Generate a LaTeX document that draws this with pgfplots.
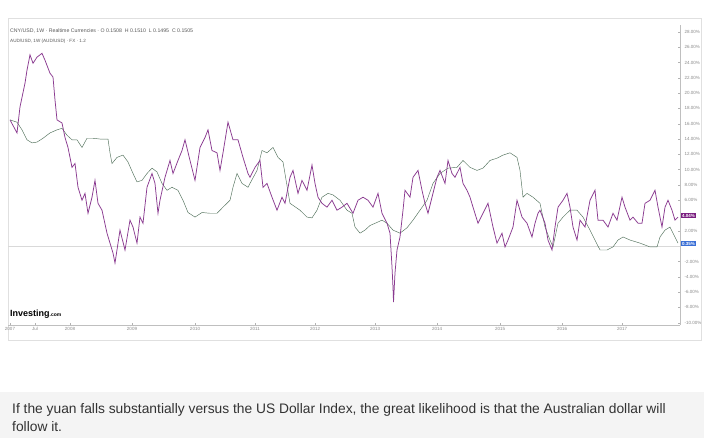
\documentclass[border=0pt]{standalone}
\usepackage{fontspec}
\setmainfont{Liberation Sans}
\usepackage{pgfplots}
\pgfplotsset{compat=1.18}
\definecolor{purp}{HTML}{8A3A90}
\definecolor{grn}{HTML}{50705A}
\definecolor{tagp}{HTML}{7A1F80}
\definecolor{tagb}{HTML}{3A6FD6}
\definecolor{capbg}{HTML}{F4F4F4}
\definecolor{captx}{HTML}{333333}
\definecolor{lbl}{HTML}{8A8A8A}

\pgfplotstableread{
x y
10 16.5
17 14.8
20 18.2
25 21.3
27 23.0
30 25.0
33 23.9
37 24.7
42 25.2
45 24.3
50 22.6
53 22.1
55 19.1
57 16.5
62 16.1
65 14.2
68 12.9
72 10.3
75 10.8
78 7.7
82 6.0
85 6.9
88 4.3
92 6.4
95 8.6
98 5.6
102 4.7
107 1.7
113 -0.9
115 -2.2
120 2.1
125 -0.5
130 3.4
133 2.5
137 0.4
140 3.8
143 3.0
147 7.7
152 9.5
155 8.2
158 4.3
160 6.0
165 9.0
170 11.2
173 9.5
178 11.2
182 12.5
185 13.9
190 11.2
195 8.6
200 12.9
205 14.2
208 15.2
212 12.5
217 12.2
220 9.9
223 12.2
228 16.2
233 13.9
238 13.9
243 11.6
248 9.5
250 9.0
255 10.3
260 11.2
263 7.7
267 8.2
272 6.4
277 4.7
282 6.4
285 5.6
290 9.0
293 9.9
298 6.9
302 8.6
307 7.3
312 10.6
315 8.2
318 6.4
322 5.6
327 5.1
332 6.0
337 4.7
342 5.1
347 5.6
353 4.3
358 6.0
363 6.4
368 6.0
373 5.1
378 6.9
382 4.3
387 3.0
390 1.7
392 -2.7
393 -5.4
393.5 -7.3
395 -3.5
397 -0.5
400 1.2
403 4.7
405 7.3
410 6.4
413 9.0
418 9.9
422 7.3
425 5.6
428 4.3
432 6.4
437 9.0
440 9.9
445 8.2
448 11.2
452 9.5
455 9.0
460 10.3
463 8.2
467 7.3
470 6.4
473 5.1
478 3.0
483 4.3
488 5.6
493 2.5
497 0.4
502 1.7
505 -0.1
508 0.8
513 2.5
517 6.0
522 3.8
527 3.0
532 1.2
535 3.0
538 4.3
540 4.7
545 3.0
548 0.8
552 -0.5
555 2.5
558 5.1
563 6.0
567 6.9
570 5.1
573 2.5
577 0.8
580 3.4
585 2.5
590 6.0
595 7.3
598 3.4
603 3.4
608 2.5
613 4.3
617 3.4
622 6.4
625 5.1
630 3.4
633 3.8
638 3.0
642 3.0
645 5.6
650 6.0
655 7.3
658 5.1
662 2.5
665 5.1
668 6.0
672 4.7
675 3.4
678 3.8
}\cny

\pgfplotstableread{
x y
10 16.5
17 16.2
22 15.2
27 13.9
32 13.5
37 13.6
43 14.1
50 14.8
57 15.2
62 15.4
67 14.5
72 13.9
77 13.9
82 12.9
87 14.1
93 14.1
100 14.0
108 14.0
110 12.2
112 10.8
117 11.6
123 11.9
128 11.0
133 9.5
137 8.4
142 8.6
147 9.5
152 10.2
157 9.7
162 8.2
167 7.3
172 7.7
178 7.3
183 6.0
188 4.4
195 3.8
202 4.4
210 4.3
217 4.3
223 5.1
230 6.0
233 7.7
237 9.5
242 8.2
248 7.7
250 8.2
257 9.9
262 12.5
267 12.2
273 12.9
278 11.6
283 11.0
290 5.6
300 4.7
307 3.8
312 3.7
317 4.7
322 6.4
328 6.9
333 6.7
340 6.0
347 4.7
352 4.3
355 2.5
360 1.7
365 2.1
370 2.7
377 3.1
382 3.4
387 3.0
393 2.1
400 1.7
407 2.4
413 3.4
420 4.7
427 6.0
433 8.2
440 9.5
448 10.2
457 10.3
463 11.2
470 10.3
477 9.9
483 10.2
490 11.2
497 11.5
503 11.9
510 12.2
517 11.6
520 9.9
523 6.4
527 6.9
533 6.4
540 5.6
545 2.5
550 0.8
553 -0.1
558 3.0
563 3.8
570 4.7
577 4.7
583 3.8
590 2.1
595 0.8
600 -0.5
607 -0.5
613 -0.1
618 0.8
623 1.2
630 0.8
640 0.4
650 -0.1
657 -0.1
660 1.2
665 2.1
670 2.5
673 1.7
678 0.4
}\aud

\begin{document}
\begin{tikzpicture}
\useasboundingbox (0,0) rectangle (704bp,-438bp);
\fill[white] (0,0) rectangle (704bp,-438bp);
\fill[capbg] (0,-392bp) rectangle (704bp,-438bp);
\draw[black!12, line width=0.6bp] (8bp,-18bp) rectangle (701bp,-340bp);
\node[anchor=base west, inner sep=0, text=captx, font=\fontsize{13.8bp}{16bp}\selectfont] at (12bp,-413bp) {If the yuan falls substantially versus the US Dollar Index, the great likelihood is that the Australian dollar will};
\node[anchor=base west, inner sep=0, text=captx, font=\fontsize{13.8bp}{16bp}\selectfont] at (12bp,-431bp) {follow it.};
\node[anchor=base west, inner sep=0, text=black!65, font=\fontsize{5.2bp}{6bp}\selectfont] at (10bp,-32bp) {CNY/USD, 1W · Realtime Currencies · O 0.1508 \ H 0.1510 \ L 0.1495 \ C 0.1505};
\node[anchor=base west, inner sep=0, text=black!65, font=\fontsize{4.6bp}{6bp}\selectfont] at (10bp,-42bp) {AUD/USD, 1W (AUD/USD) · FX · 1.2};
\node[anchor=base west, inner sep=0, font=\fontsize{9bp}{10bp}\selectfont\bfseries] at (10bp,-316bp) {Investing\fontsize{5bp}{6bp}\selectfont .com};
\begin{axis}[
  at={(8bp,-325bp)}, anchor=south west,
  width=672bp, height=300bp, scale only axis,
  xmin=8, xmax=680, ymin=-10.3, ymax=28.9,
  axis x line*=bottom, axis y line*=right,
  axis line style={black!25, line width=0.5bp},
  xtick={10,35,70,132,195,255,315,375,437,500,562,622},
  xticklabels={2007,Jul,2008,2009,2010,2011,2012,2013,2014,2015,2016,2017},
  ytick={-10,-8,-6,-4,-2,2,6,8,10,12,14,16,18,20,22,24,26,28},
  yticklabel={\pgfmathprintnumber[fixed,fixed zerofill,precision=2]{\tick}\%},
  /pgf/number format/assume math mode=true,
  tick style={black!30, line width=0.4bp},
  major tick length=2bp,
  ticklabel style={font=\fontsize{4.5bp}{5bp}\selectfont, text=lbl},
  xticklabel style={yshift=1bp},
  yticklabel style={xshift=1bp},
  clip=false,
]
\addplot[black!15, line width=0.6bp, forget plot] coordinates {(8,0) (680,0)};
\addplot[grn, line width=0.45bp] table[x=x,y=y] {\aud};
\addplot[purp, line width=0.75bp] table[x=x,y=y] {\cny};
\node[fill=tagp, text=white, inner sep=1bp, anchor=west, font=\fontsize{4.5bp}{5bp}\selectfont\bfseries] at (axis cs:681,4.0) {4.04\%};
\node[fill=tagb, text=white, inner sep=1bp, anchor=west, font=\fontsize{4.5bp}{5bp}\selectfont\bfseries] at (axis cs:681,0.3) {0.35\%};
\end{axis}
\end{tikzpicture}
\end{document}
